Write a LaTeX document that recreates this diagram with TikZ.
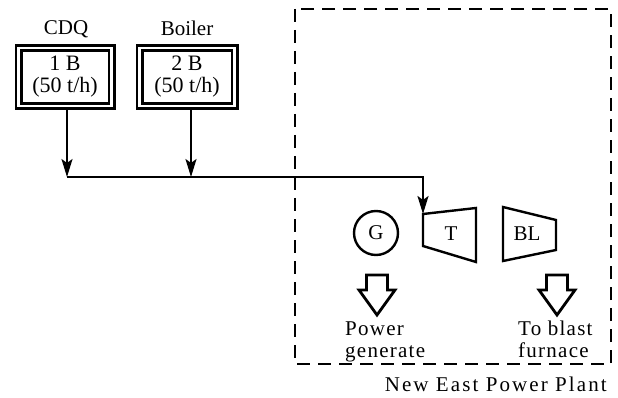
\documentclass[tikz,border=0pt]{standalone}
\usepackage{fontspec}
\setmainfont{Liberation Serif}
\newfontfamily\spacedfont[LetterSpace=6]{Liberation Serif}
\newfontfamily\widefont[LetterSpace=10]{Liberation Serif}
\usetikzlibrary{arrows.meta}
\tikzset{
  unitbox/.style={draw, double, line width=2.7pt, double distance=2.6pt, inner sep=0pt,
    align=center, font=\fontsize{22}{22}\selectfont},
  lbl/.style={inner sep=0pt, font=\fontsize{21}{22}\selectfont},
  lowlbl/.style={inner sep=0pt, align=left, font=\spacedfont\fontsize{21}{22}\selectfont},
  flow/.style={line width=2.2pt, -{Stealth[length=18pt,width=11pt,inset=4pt]}},
  machine/.style={line width=2.4pt, line join=miter},
  plant/.style={line width=2.8pt, dash pattern=on 13pt off 8pt},
  hollowarrow/.pic={
    \draw[line width=2.8pt, line join=miter] (-10.5,0) -- (10.5,0) -- (10.5,15) -- (18,15)
      -- (0,40) -- (-18,15) -- (-10.5,15) -- cycle;
  }
}
\begin{document}
\begin{tikzpicture}[x=1pt,y=-1pt]
\useasboundingbox (0,0) rectangle (618,398);
% plant boundary
\draw[plant] (295,9) rectangle (611,364);
\node[lbl, anchor=base east, font=\widefont\fontsize{21}{22}\selectfont] (plantlbl) at (607,391) {New East Power Plant};
% boilers
\node[unitbox, minimum width=93pt, minimum height=58pt] (cdq) at (65,77) {1 B\\(50 t/h)};
\node[unitbox, minimum width=95pt, minimum height=58pt] (boiler) at (187,77) {2 B\\(50 t/h)};
\node[lbl] (cdqlbl) at (66,29) {CDQ};
\node[lbl] (boilerlbl) at (187,28) {Boiler};
% machines
\node[circle, draw, line width=2.4pt, minimum size=44pt, inner sep=0pt, font=\fontsize{21}{22}\selectfont] (g) at (376,233) {G};
\coordinate (tin) at (423,214);
\draw[machine] (tin) -- (476,208) -- (476,262) -- (423,246) -- cycle;
\node[lbl] (t) at (451,234) {T};
\draw[machine] (503,207) -- (556,220) -- (556,250) -- (503,261) -- cycle;
\node[lbl] (bl) at (527,234) {BL};
% steam lines
\coordinate (j1) at (67,177);
\coordinate (j2) at (191,177);
\draw[flow] (cdq.south -| j1) -- (j1);
\draw[flow] (boiler.south -| j2) -- (j2);
\draw[flow] (j1) -- (tin |- j1) -- (tin);
% outputs
\pic (pa) at (377,275) {hollowarrow};
\pic (pb) at (557,275) {hollowarrow};
\node[lowlbl, anchor=north west] (power) at (345,322) {Power\\generate};
\node[lowlbl, anchor=north west] (blast) at (518,321) {To blast\\furnace};
\end{tikzpicture}
\end{document}
